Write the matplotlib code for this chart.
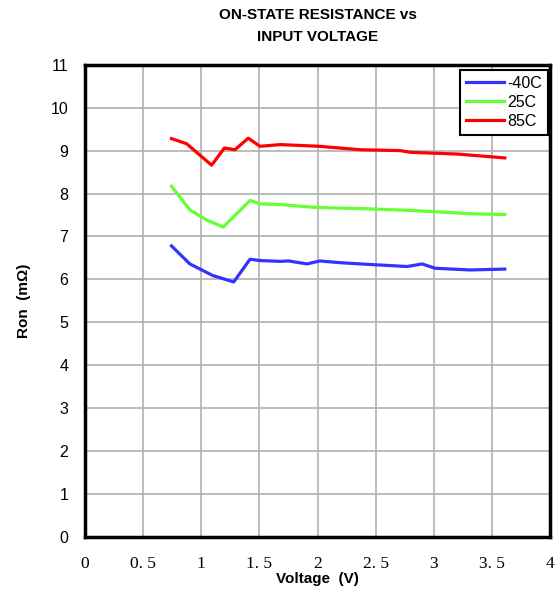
import matplotlib.pyplot as plt

plt.rcParams['font.family'] = ['Liberation Sans', 'DejaVu Sans']

# Voltage (V) and Ron (mOhm)
v_m40 = [0.745, 0.903, 1.10, 1.28, 1.42, 1.50, 1.68, 1.75, 1.91, 2.02, 2.19, 2.37, 2.77, 2.90, 3.01, 3.31, 3.61]
r_m40 = [6.78, 6.36, 6.09, 5.94, 6.47, 6.44, 6.42, 6.43, 6.36, 6.43, 6.39, 6.36, 6.30, 6.36, 6.26, 6.22, 6.24]

v_25 = [0.745, 0.903, 1.05, 1.19, 1.42, 1.505, 1.70, 1.96, 2.19, 2.37, 2.77, 3.00, 3.31, 3.61]
r_25 = [8.17, 7.62, 7.38, 7.22, 7.84, 7.76, 7.74, 7.68, 7.66, 7.65, 7.61, 7.58, 7.53, 7.51]

v_85 = [0.745, 0.875, 1.09, 1.20, 1.29, 1.405, 1.505, 1.68, 2.02, 2.19, 2.37, 2.71, 2.80, 3.20, 3.61]
r_85 = [9.28, 9.16, 8.66, 9.06, 9.02, 9.29, 9.10, 9.14, 9.10, 9.06, 9.02, 9.00, 8.96, 8.92, 8.83]

x_ticks = [0, 0.5, 1, 1.5, 2, 2.5, 3, 3.5, 4]
x_labels = ['0', '0. 5', '1', '1. 5', '2', '2. 5', '3', '3. 5', '4']
y_ticks = list(range(0, 12))

fig = plt.figure(figsize=(5.58, 5.94), dpi=100)
ax = fig.add_axes([0.152, 0.096, 0.834, 0.795])

ax.plot(v_m40, r_m40, color='#3333ff', lw=2.3, label='-40C')
ax.plot(v_25, r_25, color='#66ff33', lw=2.3, label='25C')
ax.plot(v_85, r_85, color='#ff0000', lw=2.3, label='85C')

ax.set_xlim(0, 4)
ax.set_ylim(0, 11)
ax.set_xticks(x_ticks)
ax.set_xticklabels(x_labels, fontfamily='Liberation Serif', fontsize=12.5)
ax.set_yticks(y_ticks)
ax.tick_params(axis='y', labelsize=11.5, length=0, pad=12)
ax.tick_params(axis='x', length=0, pad=14)
ax.grid(True, color='#b0b0b0', lw=1.2)
ax.set_axisbelow(True)
for s in ax.spines.values():
    s.set_linewidth(2.5)
    s.set_color('black')

ax.set_xlabel('Voltage  (V)', fontweight='bold', fontsize=11, labelpad=0)
ax.set_ylabel('Ron  (m\u03a9)', fontweight='bold', fontsize=11, labelpad=14)

fig.text(0.57, 0.975, 'ON-STATE RESISTANCE vs', ha='center', va='center',
         fontweight='bold', fontsize=11)
fig.text(0.57, 0.938, 'INPUT VOLTAGE', ha='center', va='center',
         fontweight='bold', fontsize=11)

leg = ax.legend(loc='upper right', bbox_to_anchor=(0.995, 0.988), fancybox=False,
                fontsize=11.5, handlelength=2.4, borderpad=0.35, labelspacing=0.25,
                handletextpad=0.2, borderaxespad=0)
leg.get_frame().set_edgecolor('black')
leg.get_frame().set_linewidth(1.5)
leg.get_frame().set_alpha(1)

plt.savefig('out.png', dpi=100)
